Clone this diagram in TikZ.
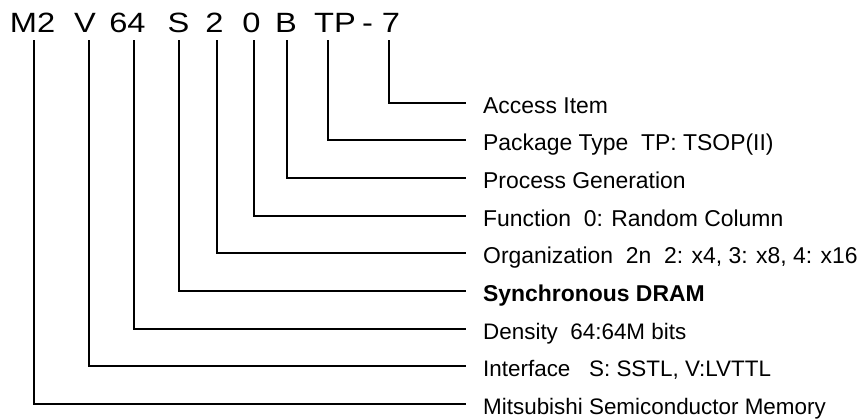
\documentclass[tikz,border=0pt]{standalone}
\usepackage{fontspec}
\setmainfont{Liberation Sans}
\newfontfamily\headfont[FakeStretch=1.17]{Liberation Sans}
\begin{document}
\begin{tikzpicture}
[x=1bp,y=-1bp,
  partdecorate/.style={anchor=base,inner sep=0pt,font=\headfont\fontsize{28}{32}\selectfont},%
  labeldecorate/.style={anchor=west,inner xsep=17bp,inner ysep=0pt,text height=21bp,text depth=0pt},%
  linedecorate/.style={-,line width=1.8bp}]
\useasboundingbox (0,0) rectangle (862,419);
%% pieces of the part number
\foreach \partname/\txt/\x in {maker/M2/32.5, iface/V/85, dens/64/127.5,
  sdram/S/178.5, org/2/214.5, func/0/251.5, proc/B/286, pkg/TP/335,
  hyph/-/367.5, acc/7/391} {
  \node (\partname) at (\x,32) [partdecorate] {\txt};
}
%% meanings and leaders
\foreach \partname/\lx/\row/\sz/\txt in {acc/389/0/23/{Access Item},
  pkg/328/1/23/{Package Type\ \ TP: TSOP(II)},
  proc/287/2/23/{Process Generation},
  func/254/3/23/{Function\ \ 0: Random Column},
  org/217/4/23/{Organization\ \ 2n\ \ 2: x4, 3: x8, 4: x16},
  sdram/179/5/23/{\textbf{Synchronous DRAM}},
  dens/134/6/22.5/{Density\ \ 64:64M bits},
  iface/89/7/22.5/{Interface\ \ \ S: SSTL, V:LVTTL},
  maker/34/8/22.5/{Mitsubishi Semiconductor Memory}} {
  \coordinate (top\partname) at (\lx,40);
  \node (lab\partname) at (466,102.7+37.66*\row) [labeldecorate,
    font=\fontsize{\sz}{\sz}\selectfont] {\txt};
  \draw[linedecorate] (top\partname) |- (lab\partname.west);
}
\end{tikzpicture}
\end{document}
